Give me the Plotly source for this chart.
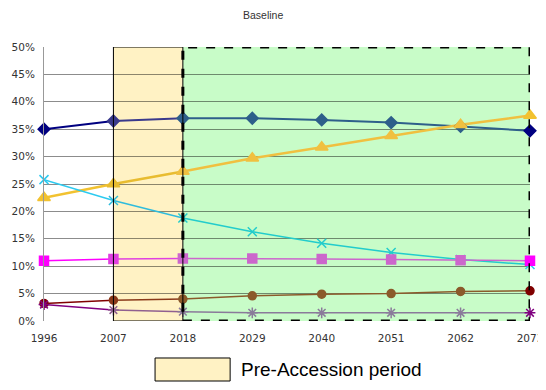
import plotly.graph_objects as go

years = [1996, 2007, 2018, 2029, 2040, 2051, 2062, 2073]
s_navy = [35.0, 36.5, 37.0, 37.0, 36.7, 36.2, 35.5, 34.7]
s_yellow = [22.5, 25.0, 27.3, 29.7, 31.7, 33.8, 35.8, 37.5]
s_cyan = [25.8, 22.0, 18.8, 16.3, 14.2, 12.5, 11.2, 10.3]
s_magenta = [11.0, 11.3, 11.4, 11.4, 11.3, 11.2, 11.1, 11.0]
s_brown = [3.2, 3.8, 4.0, 4.6, 4.9, 5.0, 5.4, 5.5]
s_purple = [3.0, 2.0, 1.7, 1.5, 1.5, 1.5, 1.5, 1.5]
y_ticks = [0, 5, 10, 15, 20, 25, 30, 35, 40, 45, 50]
pre_start, pre_end, post_end = 2007, 2018, 2073

FONT = "Liberation Sans, Arial, sans-serif"
TICKFONT = "DejaVu Sans, sans-serif"

# (values, base colour, colour in pre-accession band, colour in green band, symbol, size, width)
series = [
    (s_navy, "#000080", "#3a3a8c", "#2e5f8a", "diamond", 9, 2),
    (s_yellow, "#f2c230", "#e8bc30", "#f0c040", "triangle-up", 11, 2.5),
    (s_cyan, "#2ccaf0", "#30bcdc", "#22cccc", "x-thin-open", 9, 1.5),
    (s_magenta, "#ff00ff", "#e040e0", "#cc66cc", "square", 9, 1.5),
    (s_brown, "#800000", "#8b3a1a", "#8b5a2b", "circle", 8, 1.5),
    (s_purple, "#800080", "#906090", "#8a7a9a", "asterisk-open", 9, 1.5),
]

i_pre = years.index(pre_start)
i_post = years.index(pre_end)

fig = go.Figure()
# band fills, under the grid
fig.add_shape(type="rect", xref="x", yref="y", x0=pre_start, x1=pre_end, y0=0, y1=50,
              fillcolor="#fff2c4", line=dict(width=0), layer="below")
fig.add_shape(type="rect", xref="x", yref="y", x0=pre_end, x1=post_end, y0=0, y1=50,
              fillcolor="#c8fcc8", line=dict(width=0), layer="below")

for vals, c0, c1, c2, sym, sz, w in series:
    segs = [(0, i_pre, c0), (i_pre, i_post, c1), (i_post, len(years) - 1, c2)]
    for a, b, col in segs:
        fig.add_trace(go.Scatter(
            x=years[a:b + 1], y=vals[a:b + 1], mode="lines",
            line=dict(color=col, width=w), cliponaxis=False,
            showlegend=False, hoverinfo="skip"))
for vals, c0, c1, c2, sym, sz, w in series:
    cols = []
    for i in range(len(years)):
        if i == len(years) - 1 or i < i_pre:
            cols.append(c0)
        elif i < i_post:
            cols.append(c1)
        else:
            cols.append(c2)
    fig.add_trace(go.Scatter(
        x=years, y=vals, mode="markers",
        marker=dict(symbol=sym, size=sz, color=cols, line=dict(color=cols, width=1.5)),
        cliponaxis=False, showlegend=False))

# borders
fig.add_shape(type="rect", xref="x", yref="y", x0=pre_start, x1=pre_end, y0=0, y1=50,
              fillcolor="rgba(0,0,0,0)", line=dict(color="black", width=1), layer="above")
fig.add_shape(type="rect", xref="x", yref="y", x0=pre_end, x1=post_end, y0=0, y1=50,
              fillcolor="rgba(0,0,0,0)", line=dict(color="black", width=3, dash="dash"), layer="above")

# legend-like key
fig.add_shape(type="rect", xref="paper", yref="paper", x0=0.2285, x1=0.383, y0=-0.219, y1=-0.135,
              fillcolor="#fff2c4", line=dict(color="black", width=1))
fig.add_annotation(text="Pre-Accession period", xref="paper", yref="paper", x=0.401, y=-0.178,
                   xanchor="left", yanchor="middle", showarrow=False,
                   font=dict(family=FONT, size=19, color="black"))
fig.add_annotation(text="Baseline", xref="paper", yref="paper", x=0.45, y=1.118,
                   xanchor="center", yanchor="middle", showarrow=False,
                   font=dict(family=FONT, size=10.5, color="#333"))

# page body has an 8px margin: size the figure so the page does not scroll
fig.update_layout(
    width=538, height=374,
    margin=dict(l=36, r=16, t=39, b=61),
    paper_bgcolor="white", plot_bgcolor="white",
    font=dict(family=FONT, size=11, color="#333"),
)
fig.update_xaxes(range=[1996, 2073], tickvals=years, ticktext=[str(y) for y in years],
                 showgrid=False, zeroline=False, showline=False, ticks="",
                 automargin=False, ticklabelstandoff=9,
                 tickfont=dict(family=TICKFONT, size=10.5, color="#333"))
fig.update_yaxes(range=[0, 50], tickvals=y_ticks, ticktext=[f"{v}%" for v in y_ticks],
                 showgrid=True, gridcolor="rgba(0,0,0,0.45)", gridwidth=1, zeroline=False,
                 showline=True, linecolor="#999", linewidth=1, ticks="",
                 automargin=False, ticklabelstandoff=6,
                 tickfont=dict(family=TICKFONT, size=10.5, color="#333"))

fig.write_html("out.html", default_width="538px", default_height="374px")
